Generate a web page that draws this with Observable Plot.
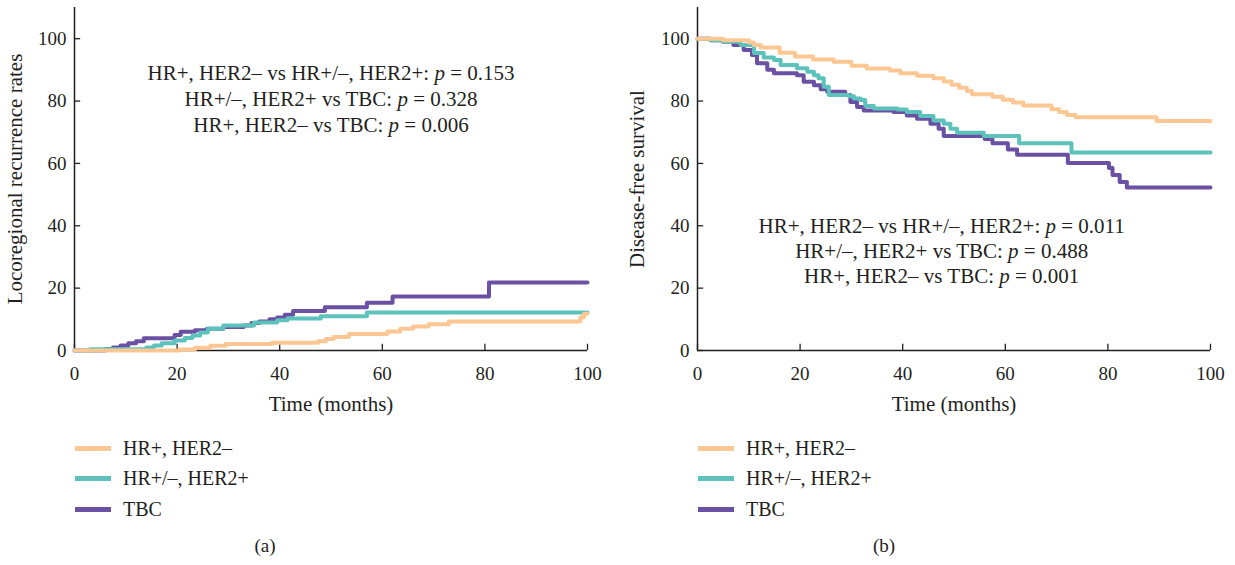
<!DOCTYPE html>
<html>
<head>
<meta charset="utf-8">
<script src="https://cdn.jsdelivr.net/npm/d3@7"></script>
<script src="https://cdn.jsdelivr.net/npm/@observablehq/plot@0.6"></script>
<style>
  html, body { margin: 0; padding: 0; background: #fff; }
  body { width: 1235px; height: 565px; position: relative; overflow: hidden; font-family: "Liberation Serif", serif; color: #231f20; }
  .panel { position: absolute; top: 0; width: 618px; height: 565px; }
  .legend { position: absolute; top: 433px; font-size: 20px; }
  .legend .row { display: flex; align-items: center; height: 30.5px; }
  .legend .sw { width: 36px; height: 5px; margin-right: 12px; }
  .caption { position: absolute; top: 535px; font-size: 19px; width: 40px; text-align: center; }
</style>
</head>
<body>
<div class="panel" id="pa" style="left:0"></div>
<div class="panel" id="pb" style="left:617px"></div>
<script>
// ---------- data ----------
const groups = ["HR+, HER2–", "HR+/–, HER2+", "TBC"];
const groupColors = ["#fdc793", "#5cc2bb", "#6a51a3"];
const xTicks = [0, 20, 40, 60, 80, 100];
const yTicks = [0, 20, 40, 60, 80, 100];

// (a) Locoregional recurrence rates
const recTimeHR = [0, 20.5, 23.5, 26.5, 29.5, 38.5, 47.5, 49, 50.5, 53.5, 61, 63.5, 66, 69, 73, 98.6, 99.3, 100];
const recValHR  = [0, 0.3, 0.9, 1.5, 2.1, 2.5, 3.0, 3.7, 4.3, 5.3, 6.1, 7.0, 7.7, 8.4, 9.3, 10.6, 11.8, 11.8];
const recTimeHER2 = [0, 3, 14, 15.5, 17, 19.5, 21.5, 23, 24.5, 26, 29, 35, 39.5, 41.5, 48, 57, 100];
const recValHER2  = [0, 0.4, 1.0, 1.6, 2.3, 3.2, 4.0, 4.8, 5.8, 7.0, 8.0, 9.0, 9.7, 10.3, 11.0, 12.2, 12.2];
const recTimeTBC = [0, 6, 7.5, 9, 10.5, 12, 13.5, 19.5, 20.7, 23.5, 25.8, 29, 33, 34.5, 36, 38, 39.5, 41, 42.6, 48.8, 57, 62, 80.8, 100];
const recValTBC  = [0, 0.5, 1.0, 1.6, 2.3, 3.0, 3.9, 5.0, 6.0, 6.5, 7.0, 7.5, 8.0, 8.8, 9.3, 10.0, 10.6, 11.5, 12.7, 13.9, 15.3, 17.3, 21.8, 21.8];
const recPvalues = ["HR+, HER2– vs HR+/–, HER2+: p = 0.153", "HR+/–, HER2+ vs TBC: p = 0.328", "HR+, HER2– vs TBC: p = 0.006"];

// (b) Disease-free survival
const dfsTimeHR = [0, 5, 10, 11, 12.3, 16, 19, 22.5, 26.5, 30, 33, 37.5, 39.5, 42.8, 46, 48, 49.5, 51, 52.5, 53.5, 57.5, 59.5, 61.5, 63.5, 69, 70.5, 72, 73.7, 89.5, 100];
const dfsValHR  = [100, 99.5, 98.8, 98.0, 97.2, 95.5, 94.3, 93.3, 92.6, 91.3, 90.4, 89.8, 88.9, 88.1, 87.3, 86.3, 85.2, 84.3, 83.2, 82.2, 81.4, 80.4, 79.5, 78.6, 77.4, 76.5, 75.5, 74.8, 73.6, 73.6];
const dfsTimeHER2 = [0, 2.5, 5, 8.4, 11, 12.9, 14.9, 16.2, 19.4, 21.4, 22.7, 23.6, 24.6, 25.6, 29.5, 30.5, 31.8, 32.7, 34.4, 39, 40.8, 43.4, 46, 48, 49.3, 50.6, 55.8, 62.7, 72.9, 100];
const dfsValHER2  = [100, 99.5, 99, 98, 95.4, 94, 93.2, 91.6, 90.5, 89.4, 88.3, 87.3, 84.6, 81.9, 81.5, 80.8, 80.3, 78.4, 77.6, 77.3, 76.5, 75.2, 73.8, 72.7, 71.1, 69.8, 68.8, 66.5, 63.5, 63.5];
const dfsTimeTBC = [0, 2.5, 5, 7, 9, 10.6, 11.6, 13.6, 14.9, 19.4, 20.7, 22.7, 24, 25.3, 28.8, 29.8, 31.1, 32.4, 38.2, 40.8, 42.8, 45.4, 47, 48, 56, 57.5, 60.5, 62.3, 72.2, 80.2, 80.9, 82.3, 83.7, 100];
const dfsValTBC  = [100, 99.5, 99, 98, 96.4, 94.8, 92.1, 90, 88.9, 88.3, 86.2, 85.1, 83.8, 83, 81.9, 79.7, 78.1, 77, 76.5, 75.4, 74.3, 72.7, 71.1, 68.8, 67.8, 66.5, 64.5, 62.8, 60.1, 58.5, 56.3, 54, 52.3, 52.3];
const dfsPvalues = ["HR+, HER2– vs HR+/–, HER2+: p = 0.011", "HR+/–, HER2+ vs TBC: p = 0.488", "HR+, HER2– vs TBC: p = 0.001"];

// ---------- build ----------
function rows(times, vals, g) { return times.map((t, i) => ({t, v: vals[i], g})); }
const recRows = [
  ...rows(recTimeTBC, recValTBC, groups[2]),
  ...rows(recTimeHER2, recValHER2, groups[1]),
  ...rows(recTimeHR, recValHR, groups[0])
];
const dfsRows = [
  ...rows(dfsTimeTBC, dfsValTBC, groups[2]),
  ...rows(dfsTimeHER2, dfsValHER2, groups[1]),
  ...rows(dfsTimeHR, dfsValHR, groups[0])
];

function panel(data, ylabel, pvals, ann, ml, mr, ylo) {
  const chart = Plot.plot({
    width: 618, height: 420,
    marginLeft: ml, marginRight: mr, marginTop: 7, marginBottom: 70,
    style: {fontFamily: "'Liberation Serif', serif", fontSize: "19px", color: "#231f20", background: "transparent"},
    x: {domain: [0, 100]},
    y: {domain: [0, 110]},
    color: {domain: groups, range: groupColors},
    marks: [
      Plot.axisX({ticks: [], tickSize: 0, fontSize: 21,
        label: "Time (months)", labelAnchor: "center", labelOffset: 60, labelArrow: "none"}),
      Plot.axisY({ticks: [], tickSize: 0, fontSize: 21,
        label: ylabel, labelAnchor: "center", labelOffset: ylo, labelArrow: "none"}),
      // tick labels
      Plot.text(xTicks, {x: d => d, y: 0, dy: 23, text: d => String(d), fontSize: 19, fill: "#231f20", lineAnchor: "middle"}),
      Plot.text(yTicks, {x: 0, y: d => d, dx: -8, text: d => String(d), fontSize: 19, fill: "#231f20", textAnchor: "end", lineAnchor: "middle"}),
      // axis lines and inward ticks
      Plot.ruleY([0], {stroke: "#231f20", strokeWidth: 1.5}),
      Plot.ruleX([0], {stroke: "#231f20", strokeWidth: 1.5}),
      Plot.ruleX(xTicks, {x: d => d, y1: 0, y2: 2, stroke: "#231f20", strokeWidth: 1.3}),
      Plot.ruleY(yTicks, {y: d => d, x1: 0, x2: 1.2, stroke: "#231f20", strokeWidth: 1.3}),
      Plot.line(data, {x: "t", y: "v", z: "g", stroke: "g", curve: "step-after", strokeWidth: 4, strokeLinejoin: "round"}),
      Plot.text([pvals.join("\n")], {x: ann[0], y: ann[1], text: d => d, lineHeight: ann[2],
        textAnchor: "middle", fill: "#231f20", fontSize: 21, className: "pvals"})
    ]
  });
  // italic p
  chart.querySelectorAll(".pvals tspan").forEach(ts => {
    const s = ts.textContent;
    const k = s.indexOf(": p = ");
    if (k < 0) return;
    ts.textContent = "";
    const ns = "http://www.w3.org/2000/svg";
    const a = document.createElementNS(ns, "tspan"); a.textContent = s.slice(0, k + 2);
    const p = document.createElementNS(ns, "tspan"); p.textContent = "p"; p.setAttribute("font-style", "italic");
    const b = document.createElementNS(ns, "tspan"); b.textContent = s.slice(k + 3);
    ts.append(a, p, b);
  });
  return chart;
}

function legend(left) {
  const div = document.createElement("div");
  div.className = "legend";
  div.style.left = left + "px";
  groups.forEach((g, i) => {
    const r = document.createElement("div"); r.className = "row";
    const sw = document.createElement("span"); sw.className = "sw"; sw.style.background = groupColors[i];
    const t = document.createElement("span"); t.textContent = g;
    r.append(sw, t); div.append(r);
  });
  return div;
}
function caption(text, left) {
  const d = document.createElement("div"); d.className = "caption";
  d.style.left = left + "px"; d.textContent = text; return d;
}

const pa = document.getElementById("pa");
pa.append(panel(recRows, "Locoregional recurrence rates", recPvalues, [50, 81.1, 1.25], 74, 31, 67));
pa.append(legend(75));
pa.append(caption("(a)", 245));

const pb = document.getElementById("pb");
pb.append(panel(dfsRows, "Disease-free survival", dfsPvalues, [47.6, 32.3, 1.21], 80, 25, 68));
pb.append(legend(81));
pb.append(caption("(b)", 247));
</script>
</body>
</html>
